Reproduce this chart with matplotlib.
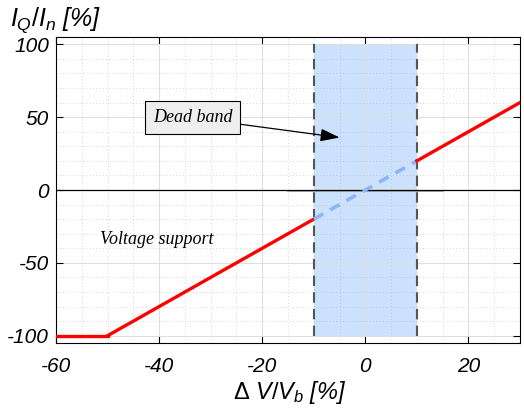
import matplotlib
matplotlib.use("Agg")
import matplotlib.pyplot as plt
from matplotlib.ticker import MultipleLocator

# data
sat_x = [-60, -50]
sat_y = [-100, -100]
neg_x = [-50, -10]
neg_y = [-100, -20]
db_x = [-10, 10]
db_y = [-20, 20]
pos_x = [10, 30]
pos_y = [20, 60]
band = [-10, 10]
band_y = [-100, 100]
xticks = [-60, -40, -20, 0, 20]
yticks = [-100, -50, 0, 50, 100]

plt.rcParams['font.family'] = ['Liberation Sans', 'DejaVu Sans']
plt.rcParams['axes.unicode_minus'] = False
plt.rcParams['mathtext.fontset'] = 'custom'
plt.rcParams['mathtext.it'] = 'Liberation Sans:italic'
plt.rcParams['mathtext.rm'] = 'Liberation Sans'
plt.rcParams['mathtext.sf'] = 'Liberation Sans:italic'

fig = plt.figure(figsize=(5.24, 4.17), dpi=100)
ax = fig.add_axes([56/524, 1-343/417, (520-56)/524, (343-37)/417])

ax.fill_between(band, band_y[0], band_y[1], color='#cce1fb', zorder=1, lw=0)
for xb in band:
    ax.plot([xb, xb], band_y, ls=(0, (5, 3)), color='#555555', lw=1.5, zorder=4)

ax.plot([-15, 15], [-0.8, -0.8], color='#aaaaaa', lw=1.4, zorder=2)
ax.axhline(0, color='black', lw=0.9, zorder=3)

ax.plot(sat_x, sat_y, color='#ff0000', lw=2.4, zorder=5)
ax.plot(neg_x, neg_y, color='#ff0000', lw=2.4, zorder=5)
ax.plot(db_x, db_y, color='#8ab6f7', lw=2.6, ls=(0, (3, 2.2)), zorder=5)
ax.plot(pos_x, pos_y, color='#ff0000', lw=2.4, zorder=5)

ax.set_xlim(-60, 30)
ax.set_ylim(-105, 105)
ax.set_xticks(xticks)
ax.set_yticks(yticks)
ax.set_xticklabels([str(v) for v in xticks], style='italic', fontsize=15)
ax.set_yticklabels([str(v) for v in yticks], style='italic', fontsize=15)
ax.xaxis.set_minor_locator(MultipleLocator(5))
ax.yaxis.set_minor_locator(MultipleLocator(10))
ax.grid(True, which='major', color='#dddddd', lw=0.7, zorder=2)
ax.grid(True, which='minor', color='#b0b0b0', lw=0.6, ls=(0, (1, 3)), alpha=0.7)
for gl in ax.get_xgridlines() + ax.get_ygridlines():
    gl.set_zorder(1.5)
ax.tick_params(which='minor', length=0)
ax.tick_params(which='major', direction='in', length=5, top=True, right=True,
               width=0.8)
ax.tick_params(axis='x', pad=10)
ax.tick_params(axis='y', pad=5)
for s in ax.spines.values():
    s.set_linewidth(0.8)

ax.annotate('Dead band', xy=(-5, 36), xytext=(-33.5, 49.5),
            fontsize=13, family='Liberation Serif', style='italic',
            ha='center', va='center',
            bbox=dict(boxstyle='square,pad=0.45', fc='#eeeeee', ec='black', lw=0.8),
            arrowprops=dict(arrowstyle='-|>,head_length=0.9,head_width=0.3',
                            color='black', lw=0.9, shrinkA=0, shrinkB=0),
            zorder=6)
ax.text(-51.5, -34, 'Voltage support', fontsize=13, family='Liberation Serif',
        style='italic', ha='left', va='center', zorder=6)

fig.text(10/524, 1-20/417, r'$I_Q/I_n$ [%]', fontsize=18, style='italic',
         ha='left', va='center')
fig.text(290/524, 1-393/417, r'$\Delta$ $V/V_b$ [%]', fontsize=17, style='italic',
         ha='center', va='center')

fig.savefig('out.png', dpi=100)
